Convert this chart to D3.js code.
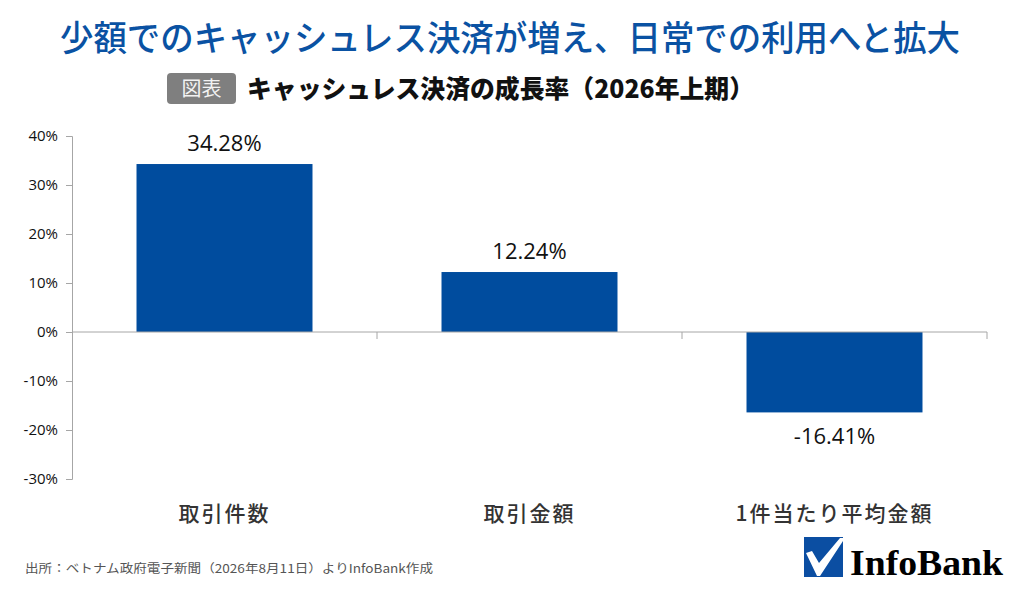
<!DOCTYPE html>
<html><head><meta charset="utf-8">
<script src="https://cdn.jsdelivr.net/npm/d3@7"></script>
<style>body{margin:0;background:#fff}svg{display:block}</style>
</head><body>
<script>
const categories = ["取引件数", "取引金額", "1件当たり平均金額"];
const values = [34.28, 12.24, -16.41];
const yTicks = [40, 30, 20, 10, 0, -10, -20, -30];
const title = "少額でのキャッシュレス決済が増え、日常での利用へと拡大";
const subtitle = "キャッシュレス決済の成長率（2026年上期）";
const badge = "図表";
const source = "出所：ベトナム政府電子新聞（2026年8月11日）よりInfoBank作成";

const W = 1024, H = 597;
const svg = d3.select("body").append("svg").attr("width", W).attr("height", H);
const jp = "'Noto Sans CJK JP', 'Noto Sans', sans-serif";

svg.append("text").attr("x", 60).attr("y", 51).attr("font-family", jp)
  .attr("font-size", 35).attr("font-weight", 500).attr("fill", "#0A52A3")
  .attr("textLength", 900).attr("lengthAdjust", "spacingAndGlyphs").text(title);

svg.append("rect").attr("x", 167).attr("y", 73).attr("width", 69).attr("height", 31)
  .attr("rx", 4).attr("fill", "#7f7f7f");
svg.append("text").attr("x", 201.5).attr("y", 96).attr("text-anchor", "middle")
  .attr("font-family", jp).attr("font-size", 20).attr("fill", "#f2f2f2").text(badge);
svg.append("text").attr("x", 247).attr("y", 98).attr("font-family", jp)
  .attr("font-size", 25).attr("font-weight", 900).attr("fill", "#111")
  .attr("textLength", 507).attr("lengthAdjust", "spacingAndGlyphs").text(subtitle);

const y = d3.scaleLinear().domain([-30, 40]).range([479, 136]);
const x = d3.scaleBand().domain(categories).range([72, 987]).paddingInner(0.423).paddingOuter(0.2115);
const xb = d3.scaleBand().domain(categories).range([72, 987]);

const yAxis = svg.append("g").attr("transform", "translate(72,0)")
  .call(d3.axisLeft(y).tickValues(yTicks).tickSize(6).tickFormat(d => d + "%"));
yAxis.select(".domain").attr("stroke", "#a6a6a6");
yAxis.selectAll(".tick line").attr("stroke", "#a6a6a6");
yAxis.selectAll(".tick text").attr("font-family", "'Open Sans', sans-serif")
  .style("font-size", "15px").attr("fill", "#111").attr("x", -14);

svg.selectAll("rect.bar").data(values).enter().append("rect").attr("class", "bar")
  .attr("x", (d, i) => x(categories[i])).attr("width", x.bandwidth())
  .attr("y", d => y(Math.max(0, d))).attr("height", d => Math.abs(y(d) - y(0)))
  .attr("fill", "#004C9E");

const xAxis = svg.append("g").attr("transform", `translate(0,${y(0)})`);
xAxis.append("line").attr("x1", 72).attr("x2", 987).attr("stroke", "#a6a6a6");
const bounds = categories.map(c => xb(c)).concat([987]);
xAxis.selectAll("line.sep").data(bounds.slice(1)).enter().append("line").attr("class", "sep")
  .attr("x1", d => d).attr("x2", d => d).attr("y1", 0).attr("y2", 7).attr("stroke", "#a6a6a6");

svg.selectAll("text.val").data(values).enter().append("text").attr("class", "val")
  .attr("x", (d, i) => x(categories[i]) + x.bandwidth() / 2)
  .attr("y", d => d >= 0 ? y(d) - 13 : y(d) + 32)
  .attr("text-anchor", "middle").attr("font-family", "'Open Sans', sans-serif")
  .attr("font-size", 22).attr("fill", "#111")
  .text(d => d.toFixed(2) + "%");

svg.selectAll("text.cat").data(categories).enter().append("text").attr("class", "cat")
  .attr("x", d => xb(d) + xb.bandwidth() / 2).attr("y", 521)
  .attr("text-anchor", "middle").attr("font-family", jp).attr("font-size", 21)
  .attr("font-weight", 500).attr("letter-spacing", 2).attr("fill", "#333").text(d => d);

svg.append("text").attr("x", 25).attr("y", 573).attr("font-family", jp)
  .attr("font-size", 12).attr("fill", "#555")
  .attr("textLength", 408).attr("lengthAdjust", "spacingAndGlyphs").text(source);

const lg = svg.append("g");
lg.append("rect").attr("x", 804).attr("y", 537).attr("width", 39).attr("height", 40).attr("fill", "#0B4EA2");
lg.append("path").attr("d", "M806,553 L812,551 L819,563 L840,538 L843,538 L843,541 L820,576 L817,576 Z")
  .attr("fill", "#fff");
lg.append("text").attr("x", 850).attr("y", 575).attr("font-family", "'Liberation Serif', 'Times New Roman', serif")
  .attr("font-weight", "bold").attr("font-size", 35).attr("fill", "#000")
  .attr("textLength", 153).attr("lengthAdjust", "spacingAndGlyphs").text("InfoBank");
</script>
</body></html>
